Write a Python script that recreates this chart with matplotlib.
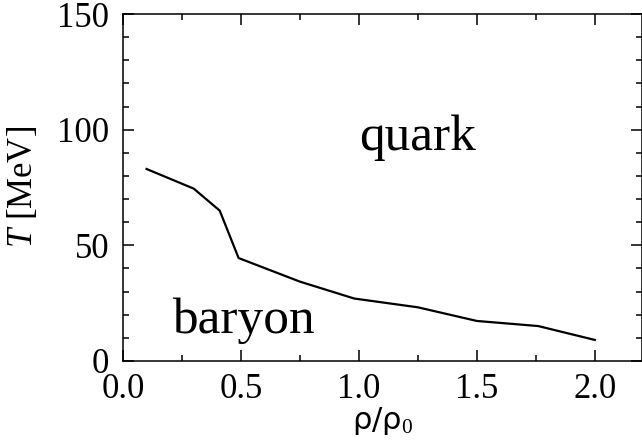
import matplotlib
matplotlib.use("Agg")
import matplotlib.pyplot as plt
from matplotlib.ticker import MultipleLocator, FormatStrFormatter

plt.rcParams['font.family'] = ['Liberation Serif', 'DejaVu Serif']
plt.rcParams['mathtext.fontset'] = 'custom'
plt.rcParams['mathtext.rm'] = 'Liberation Serif'
plt.rcParams['mathtext.it'] = 'Liberation Serif:italic'

# phase boundary
rho = [0.1, 0.3, 0.41, 0.49, 0.75, 0.98, 1.25, 1.5, 1.76, 2.0]
temp = [83, 74.5, 65, 44.5, 34.3, 27, 23.2, 17.3, 15.1, 9.1]

fig = plt.figure(figsize=(6.42, 4.42), dpi=100)
ax = fig.add_axes([0.1916, 0.1833, 0.8084, 0.785])

ax.plot(rho, temp, color='black', lw=1.6)

ax.set_xlim(0, 2.2)
ax.set_ylim(0, 150)
ax.xaxis.set_major_locator(MultipleLocator(0.5))
ax.xaxis.set_minor_locator(MultipleLocator(0.25))
ax.yaxis.set_major_locator(MultipleLocator(50))
ax.yaxis.set_minor_locator(MultipleLocator(10))
ax.xaxis.set_major_formatter(FormatStrFormatter('%.1f'))

ax.tick_params(which='both', direction='in', top=True, right=True, width=1.1, labelsize=25)
ax.tick_params(which='major', length=8)
ax.tick_params(which='minor', length=4.5)
ax.tick_params(axis='x', pad=9)
ax.tick_params(axis='y', pad=10)
for s in ax.spines.values():
    s.set_linewidth(1.1)

ax.set_xlabel('ρ/ρ$_0$', fontsize=22, family=['DejaVu Sans'], labelpad=-1)
ax.set_ylabel('$T$ [MeV]', fontsize=25, labelpad=12)

ax.text(1.0, 91.2, 'quark', fontsize=37, va='baseline', ha='left')
ax.text(0.21, 12.1, 'baryon', fontsize=37, va='baseline', ha='left')

fig.savefig('out.png', dpi=100)
